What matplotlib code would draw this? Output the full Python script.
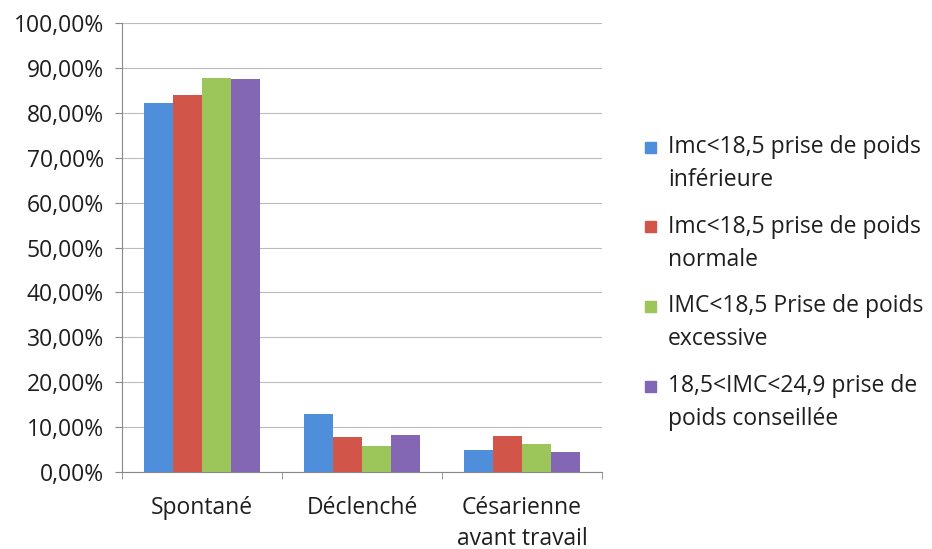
import numpy as np
import matplotlib.pyplot as plt
from matplotlib.ticker import FuncFormatter, FixedLocator
from matplotlib.patches import Rectangle

categories = ["Spontané", "Déclenché", "Césarienne\navant travail"]
series = ["Imc<18,5 prise de poids\ninférieure",
          "Imc<18,5 prise de poids\nnormale",
          "IMC<18,5 Prise de poids\nexcessive",
          "18,5<IMC<24,9 prise de\npoids conseillée"]
values = [
    [82.2, 12.9, 4.9],
    [84.0, 7.9, 8.1],
    [87.7, 5.9, 6.2],
    [87.5, 8.2, 4.4],
]
colors = ["#4F8EDB", "#D2554A", "#9CC659", "#8366B4"]

plt.rcParams['font.family'] = ['Open Sans', 'DejaVu Sans']
FS = 16.5
W, H = 932, 549

fig = plt.figure(figsize=(9.32, 5.49), dpi=100)
ax = fig.add_axes([122 / W, 1 - 472 / H, 480 / W, 449 / H])

x = np.arange(len(categories))
w = 0.18
for i, (vals, c) in enumerate(zip(values, colors)):
    ax.bar(x + (i - 1.5) * w, vals, w, color=c, zorder=3)

ax.set_xlim(-0.5, 2.5)
ax.set_ylim(0, 100)
ax.set_yticks(np.arange(0, 101, 10))
ax.yaxis.set_major_formatter(FuncFormatter(lambda v, p: f"{v:.2f}%".replace(".", ",")))
ax.set_xticks(x)
ax.set_xticklabels(categories, linespacing=1.4)
ax.xaxis.set_minor_locator(FixedLocator([-0.5, 0.5, 1.5, 2.5]))
ax.tick_params(axis='x', which='major', length=0, pad=17, labelsize=FS, labelcolor='#1e1e1e')
ax.tick_params(axis='x', which='minor', length=5, color='#888888')
ax.tick_params(axis='y', length=5, color='#888888', labelsize=FS, pad=8, labelcolor='#1e1e1e')
ax.grid(axis='y', color='#BBBBBB', linewidth=0.8, zorder=0)
for s in ['top', 'right']:
    ax.spines[s].set_visible(False)
for s in ['left', 'bottom']:
    ax.spines[s].set_color('#888888')

# legend: square aligned with first text line
y0, step, line_gap = 147, 79.7, 33
for i, (lab, c) in enumerate(zip(series, colors)):
    yc = y0 + i * step
    fig.patches.append(Rectangle((645 / W, 1 - (yc + 5.5) / H), 11 / W, 11 / H,
                                 transform=fig.transFigure, color=c))
    for j, line in enumerate(lab.split("\n")):
        fig.text(668 / W, 1 - (yc + j * line_gap) / H, line, fontsize=FS,
                 va='center', ha='left', color='#1e1e1e')

fig.savefig("out.png", dpi=100)
